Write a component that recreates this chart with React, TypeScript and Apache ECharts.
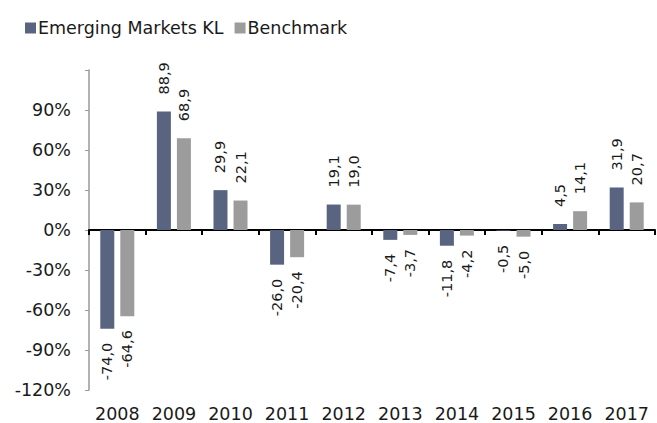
import React, { useEffect, useRef } from "react";
import * as echarts from "echarts";

const categories = ["2008", "2009", "2010", "2011", "2012", "2013", "2014", "2015", "2016", "2017"];
const emValues = [-74.0, 88.9, 29.9, -26.0, 19.1, -7.4, -11.8, -0.5, 4.5, 31.9];
const benchValues = [-64.6, 68.9, 22.1, -20.4, 19.0, -3.7, -4.2, -5.0, 14.1, 20.7];
const seriesNames = ["Emerging Markets KL", "Benchmark"];
const colors = ["#596580", "#9c9c9c"];

const FONT = "DejaVu Sans";

function withLabels(vals: number[]) {
  return vals.map((v) => ({
    value: v,
    label: v >= 0
      ? { position: "top", align: "left", verticalAlign: "middle", distance: 17 }
      : { position: "bottom", align: "right", verticalAlign: "middle", distance: 14 },
  }));
}

export default function App() {
  const ref = useRef<HTMLDivElement>(null);
  useEffect(() => {
    const chart = echarts.init(ref.current!, null, { renderer: "svg" });
    const labelBase = {
      show: true,
      rotate: 90,
      fontFamily: FONT,
      fontSize: 14.5,
      color: "#1a1a1a",
      formatter: (p: any) => p.value.toFixed(1).replace(".", ","),
    };
    chart.setOption({
      animation: false,
      color: colors,
      legend: {
        left: 20,
        top: 14,
        itemWidth: 11,
        itemHeight: 11,
        itemGap: 11,
        icon: "rect",
        textStyle: { fontFamily: FONT, fontSize: 17.5, color: "#1a1a1a", padding: [0, 0, 0, -3] },
        data: seriesNames,
      },
      grid: { left: 89, right: 2, top: 70, bottom: 33 },
      xAxis: [
        {
          type: "category",
          data: categories,
          axisLine: { onZero: true, lineStyle: { color: "#000", width: 2 } },
          axisTick: { show: true, length: 5, inside: false, lineStyle: { color: "#000", width: 2 } },
          axisLabel: { show: false },
        },
        {
          type: "category",
          data: categories,
          position: "bottom",
          axisLine: { show: false },
          axisTick: { show: false },
          axisLabel: { interval: 0, hideOverlap: false, fontFamily: FONT, fontSize: 17.5, color: "#1a1a1a", margin: 15 },
        },
      ],
      yAxis: {
        type: "value",
        min: -120,
        max: 120,
        interval: 30,
        splitLine: { show: false },
        axisLine: { show: true, lineStyle: { color: "#999", width: 1.5 } },
        axisTick: { show: true, length: 4, lineStyle: { color: "#999" } },
        axisLabel: {
          fontFamily: FONT,
          fontSize: 17.5,
          color: "#1a1a1a",
          margin: 18,
          formatter: (v: number) => (v === 120 ? "" : `${v}%`),
        },
      },
      series: [
        {
          name: seriesNames[0],
          type: "bar",
          xAxisIndex: 0,
          barWidth: 14,
          barGap: "43%",
          data: withLabels(emValues),
          label: labelBase,
        },
        {
          name: seriesNames[1],
          type: "bar",
          xAxisIndex: 0,
          barWidth: 14,
          barGap: "43%",
          data: withLabels(benchValues),
          label: labelBase,
        },
      ],
    });
    return () => chart.dispose();
  }, []);
  return <div ref={ref} style={{ width: 657, height: 423, position: "absolute", left: 0, top: 0 }} />;
}
